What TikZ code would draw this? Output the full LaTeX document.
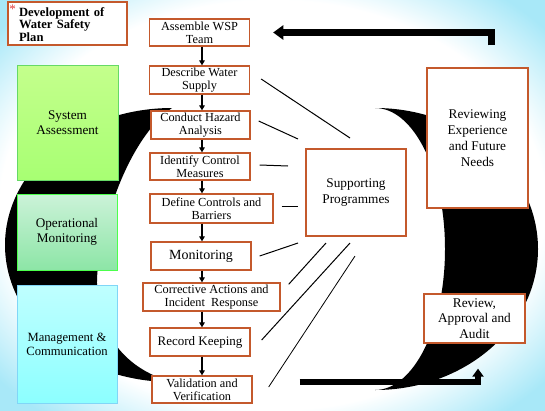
\documentclass[tikz,border=0pt]{standalone}
\usepackage{fontspec}
\setmainfont{Liberation Serif}
\usetikzlibrary{arrows.meta}
\definecolor{wspline}{RGB}{196,89,44}
\definecolor{wspsky}{RGB}{168,232,248}
\definecolor{wspred}{RGB}{225,60,60}
\pgfdeclareradialshading{wspbg}{\pgfpoint{0bp}{0bp}}{color(0bp)=(white); color(25bp)=(white); color(33bp)=(wspsky); color(50bp)=(wspsky)}

\begin{document}
\begin{tikzpicture}[x=1pt, y=-1pt,
    stepbox/.style={draw=wspline, line width=1.3pt, fill=white, align=center, inner sep=1pt,
      minimum width=100pt, minimum height=28pt, font=\fontsize{12.3}{13}\selectfont},
    phasebox/.style={line width=1pt, align=center, minimum width=100pt,
      font=\fontsize{13.2}{15}\selectfont},
    flow/.style={-{Triangle[width=5.5pt,length=5pt]}, line width=1.6pt},
    spoke/.style={line width=1pt},
    bigarrow/.style={line width=#1, -{Triangle[width=2*#1,length=1.45*#1]}}]
    % background and the two crescents
    \shade[shading=wspbg] (0,0) rectangle (545,410);
    \useasboundingbox (0,0) rectangle (545,410);
    \fill[black] (172,108) arc[start angle=-90, end angle=-270, x radius=167, y radius=137]
        .. controls (95,360) and (92,290) .. (100,255)
        .. controls (110,190) and (140,130) .. (172,108) -- cycle;
    \fill[black] (375,108) arc[start angle=-90, end angle=90, x radius=163, y radius=141]
        arc[start angle=90, end angle=-90, x radius=70, y radius=141] -- cycle;

    % title
    \node (title) [draw=wspline, line width=1.3pt, fill=white, align=left, text width=97pt,
        inner xsep=11pt, minimum height=43pt, font=\bfseries\fontsize{12.6}{12.5}\selectfont]
        at (67.5,23.5) {\llap{\raisebox{2.5pt}{\textcolor{wspred}{\mdseries\fontsize{13}{13}\selectfont*}}\hspace{3pt}}Development of\\Water Safety\\Plan};

    % steps of the plan
    \node (assemble) [stepbox, minimum height=27pt] at (199.5,32.5) {Assemble WSP\\Team};
    \node (describe) [stepbox] at (199.5,80) {Describe Water\\Supply};
    \node (conduct) [stepbox, minimum width=99pt] at (200.5,125) {Conduct Hazard\\Analysis};
    \node (identify) [stepbox, minimum height=27pt] at (200,166.5) {Identify Control\\Measures};
    \node (define) [stepbox, minimum width=123pt, minimum height=29pt] at (211.5,208.5) {Define Controls and\\Barriers};
    \node (monitoring) [stepbox, font=\fontsize{14}{14}\selectfont] at (201,256) {Monitoring};
    \node (corrective) [stepbox, minimum width=137pt] at (211.5,297) {Corrective Actions and\\Incident\ \ Response};
    \node (record) [stepbox, font=\fontsize{13}{13}\selectfont] at (200,342) {Record Keeping};
    \node (validation) [stepbox, minimum height=27pt] at (202,389.5) {Validation and\\Verification};

    % phases on the left
    \node (sysass) [phasebox, draw=green!75!black!60, top color=green!35!lime!45, bottom color=green!50!lime!55,
        minimum width=101pt, minimum height=115pt] at (67.5,122.5) {System\\Assessment};
    \node (opmon) [phasebox, draw=green!70, top color=green!50!teal!20, bottom color=green!55!teal!45,
        minimum height=76pt] at (67,232) {Operational\\Monitoring};
    \node (mgmt) [phasebox, draw=cyan!50, top color=cyan!25, bottom color=cyan!45,
        minimum height=118pt, font=\fontsize{12.6}{14}\selectfont] at (67,344) {Management \&\\Communication};

    % boxes on the right
    \node (supp) [stepbox, minimum height=87pt, font=\fontsize{13.3}{16.5}\selectfont] at (356,192.5) {Supporting\\Programmes};
    \node (reviewing) [stepbox, minimum width=101pt, minimum height=140pt, font=\fontsize{13.3}{16}\selectfont]
        at (477.5,138) {Reviewing\\Experience\\and Future\\Needs};
    \node (audit) [stepbox, minimum width=101pt, minimum height=49pt, font=\fontsize{13.3}{15.5}\selectfont]
        at (474.5,318.5) {Review,\\Approval and\\Audit};

    % flow down the steps
    \coordinate (spine) at (202,0);
    \draw[flow] (assemble.south -| spine) -- (describe.north -| spine);
    \draw[flow] (describe.south -| spine) -- (conduct.north -| spine);
    \draw[flow] (conduct.south -| spine) -- (identify.north -| spine);
    \draw[flow] (identify.south -| spine) -- (define.north -| spine);
    \draw[flow] (define.south -| spine) -- (monitoring.north -| spine);
    \draw[flow] (monitoring.south -| spine) -- (corrective.north -| spine);
    \draw[flow] (corrective.south -| spine) -- (record.north -| spine);
    \draw[flow] (record.south -| spine) -- (validation.north -| spine);

    % spokes towards supporting programmes
    \coordinate (s1) at (350,138);
    \coordinate (s2) at (298,139);
    \coordinate (s3) at (288,166);
    \coordinate (s4) at (298,206);
    \coordinate (s5) at (298,243);
    \coordinate (s6) at (326,243);
    \coordinate (s7) at (350,243);
    \coordinate (s8) at (355,256);
    \draw[spoke] ([shift={(11pt,1pt)}]describe.east) -- (s1);
    \draw[spoke] ([shift={(8pt,4pt)}]conduct.east) -- (s2);
    \draw[spoke] ([shift={(9pt,1.5pt)}]identify.east) -- (s3);
    \draw[spoke] ([shift={(8pt,2.5pt)}]define.east) -- (s4);
    \draw[spoke] ([xshift=8pt]monitoring.east) -- (s5);
    \draw[spoke] ([shift={(8pt,-2pt)}]corrective.north east) -- (s6);
    \draw[spoke] ([shift={(11pt,2pt)}]record.east) -- (s7);
    \draw[spoke, line width=0.8pt] ([shift={(16pt,2.5pt)}]validation.east) -- (s8);

    % feedback arrows
    \draw[bigarrow=7pt] ([shift={(13.5pt,22pt)}]reviewing.north) |- ([xshift=23pt]assemble.east);
    \draw[bigarrow=5.5pt] ([shift={(47pt,7.5pt)}]validation.east) -| ([shift={(3.5pt,-25pt)}]audit.south);
\end{tikzpicture}
\end{document}
